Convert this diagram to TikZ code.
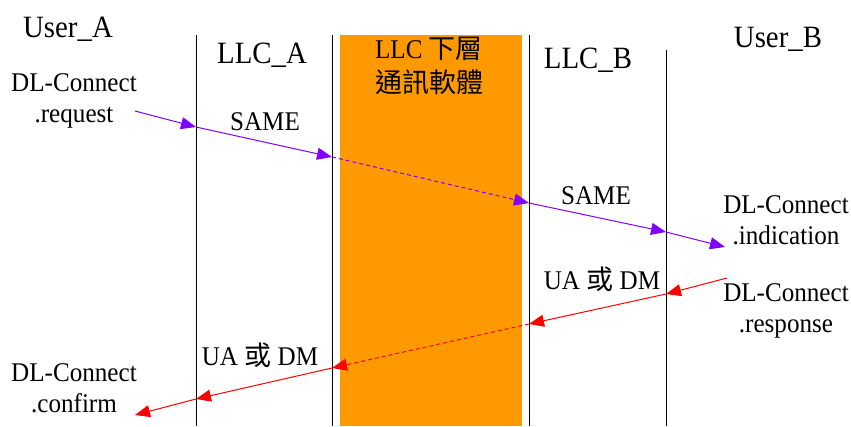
\documentclass[tikz,border=0pt]{standalone}
\usepackage{fontspec}
\setmainfont{Liberation Serif}[FakeStretch=0.93]
\newfontfamily\cjk{Noto Sans CJK TC}
\usetikzlibrary{arrows.meta,positioning}

\definecolor{reqviolet}{RGB}{128,0,255}
\definecolor{rspred}{RGB}{255,0,0}
\definecolor{lowerorange}{RGB}{255,153,0}

\tikzset{
  title/.style = {font = \fontsize{31}{35}\selectfont, inner sep = 0pt, anchor = base},
  prim/.style = {font = \fontsize{27}{31}\selectfont, inner sep = 0pt, align = center},
  msg/.style = {font = \fontsize{27}{31}\selectfont, inner sep = 0pt, anchor = base},
  lifeline/.style = {draw = black, line width = 1pt},
  reqarrow/.style = {draw = reqviolet, line width = 1pt, -{Triangle[length = 15pt, width = 12pt]}},
  rsparrow/.style = {draw = rspred, line width = 1pt, -{Triangle[length = 15pt, width = 12pt]}},
  through/.style = {dash pattern = on 4pt off 3pt}
}

\begin{document}
\begin{tikzpicture}[x = 1pt, y = -1pt]
\useasboundingbox (0,0) rectangle (851,426);

% lower layer block and lifelines
\fill[lowerorange] (340,35) rectangle (522,426);
\draw[lifeline] (196,35) -- (196,426);
\draw[lifeline] (332,35) -- (332,426);
\draw[lifeline] (529,35) -- (529,426);
\draw[lifeline] (666,50) -- (666,426);

% headings
\node[title] (usera) at (68,37) {User\_A};
\node[title] (userb) at (778,47) {User\_B};
\node[title] (llca) at (262,63) {LLC\_A};
\node[title] (llcb) at (588,68) {LLC\_B};
\node[prim, font = \fontsize{27}{34}\selectfont] (lower) at (429,66) {LLC {\cjk 下層}\\{\cjk 通訊軟體}};

% primitives
\node[prim] (request) at (74,101) {DL-Connect\\.request};
\node[prim] (indication) at (786,220) {DL-Connect\\.indication};
\node[prim] (response) at (786,311) {DL-Connect\\.response};
\node[prim] (confirm) at (74,388) {DL-Connect\\.confirm};

% frame names
\node[msg] (samea) at (265,130) {SAME};
\node[msg] (sameb) at (596,204) {SAME};
\node[msg] (uadmb) at (602,289) {UA {\cjk 或} DM};
\node[msg] (uadma) at (260,365) {UA {\cjk 或} DM};

% connect request path
\coordinate (r0) at (135,111);
\coordinate (r1) at (196,127);
\coordinate (r2) at (332,157);
\coordinate (r3) at (529,203);
\coordinate (r4) at (666,232);
\coordinate (r5) at (725,247);
\draw[reqarrow] (r0) -- (r1);
\draw[reqarrow] (r1) -- (r2);
\draw[reqarrow, through] (r2) -- (r3);
\draw[reqarrow] (r3) -- (r4);
\draw[reqarrow] (r4) -- (r5);

% response path
\coordinate (s0) at (727,278);
\coordinate (s1) at (666,294);
\coordinate (s2) at (529,324);
\coordinate (s3) at (332,368);
\coordinate (s4) at (196,399);
\coordinate (s5) at (135,415);
\draw[rsparrow] (s0) -- (s1);
\draw[rsparrow] (s1) -- (s2);
\draw[rsparrow, through] (s2) -- (s3);
\draw[rsparrow] (s3) -- (s4);
\draw[rsparrow] (s4) -- (s5);
\end{tikzpicture}
\end{document}
